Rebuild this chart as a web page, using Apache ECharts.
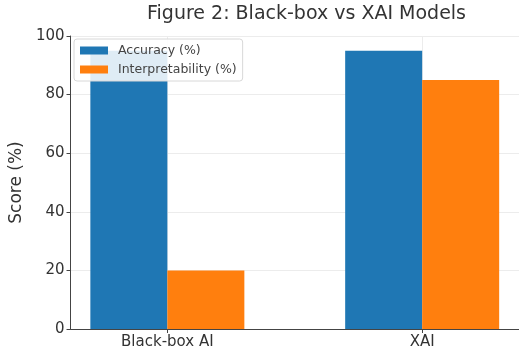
<!DOCTYPE html>
<html>
<head>
<meta charset="utf-8">
<script src="https://cdn.jsdelivr.net/npm/echarts@6/dist/echarts.min.js"></script>
<style>html,body{margin:0;padding:0;background:#fff}#c{width:519px;height:356px}</style>
</head>
<body>
<div id="c"></div>
<script>
const categories = ['Black-box AI', 'XAI'];
const seriesNames = ['Accuracy (%)', 'Interpretability (%)'];
const accuracy = [95, 95];
const interpretability = [20, 85];
const yTicks = [0, 20, 40, 60, 80, 100];

const FONT = 'DejaVu Sans';
const chart = echarts.init(document.getElementById('c'), null, {renderer: 'canvas'});
const idx = categories.map((_, i) => i);
const toPairs = arr => arr.map((v, i) => [i, v]);

chart.setOption({
  animation: false,
  backgroundColor: '#fff',
  title: {
    text: 'Figure 2: Black-box vs XAI Models',
    left: 147, top: 5, padding: 0,
    textStyle: {fontFamily: FONT, fontSize: 19, fontWeight: 'normal', color: '#333'}
  },
  legend: {
    orient: 'vertical',
    left: 74, top: 39,
    padding: [5, 6, 5, 6],
    itemWidth: 28, itemHeight: 8, itemGap: 6,
    borderColor: '#d8d8d8', borderWidth: 1, borderRadius: 3,
    backgroundColor: 'rgba(255,255,255,0.86)',
    icon: 'rect',
    textStyle: {fontFamily: FONT, fontSize: 12.5, color: '#444', padding: [0, 0, 0, 5]},
    data: seriesNames
  },
  grid: {left: 69, top: 36, width: 452, height: 293, containLabel: false},
  xAxis: {
    type: 'value', min: -0.38, max: 1.38,
    axisLine: {show: true, onZero: false, lineStyle: {color: '#444', width: 1}},
    axisTick: {show: true, length: 4, customValues: idx, lineStyle: {color: '#444'}},
    axisLabel: {
      customValues: idx, margin: 6,
      formatter: v => categories[Math.round(v)] ?? '',
      fontFamily: FONT, fontSize: 15, color: '#333'
    },
    splitLine: {show: true, lineStyle: {color: '#ececec', width: 1}}
  },
  yAxis: {
    type: 'value', min: 0, max: 100, interval: 20,
    name: 'Score (%)', nameLocation: 'middle', nameGap: 41,
    nameTextStyle: {fontFamily: FONT, fontSize: 17, color: '#333'},
    axisLine: {show: true, onZero: false, lineStyle: {color: '#444', width: 1}},
    axisTick: {show: true, length: 4, lineStyle: {color: '#444'}},
    axisLabel: {
      margin: 6, fontFamily: FONT, fontSize: 15, color: '#333',
      customValues: yTicks
    },
    splitLine: {show: true, lineStyle: {color: '#ececec', width: 1}}
  },
  series: [
    {
      name: seriesNames[0], type: 'bar', data: toPairs(accuracy),
      barWidth: 77, barGap: '0%',
      itemStyle: {color: '#1f77b4'}
    },
    {
      name: seriesNames[1], type: 'bar', data: toPairs(interpretability),
      barWidth: 77, barGap: '0%',
      itemStyle: {color: '#ff7f0e'}
    }
  ]
});
</script>
</body>
</html>
